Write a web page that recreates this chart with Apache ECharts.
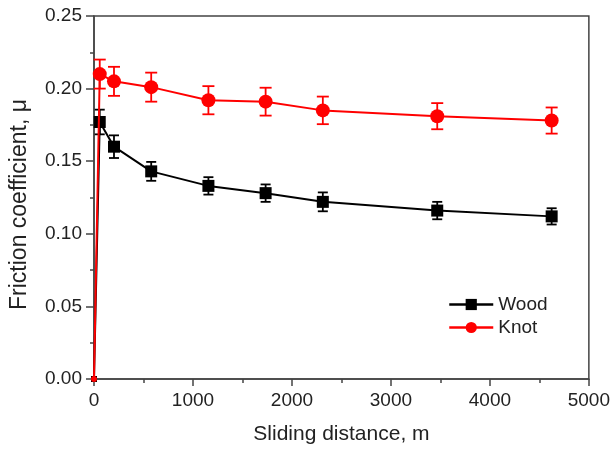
<!DOCTYPE html>
<html>
<head>
<meta charset="utf-8">
<script src="https://cdn.jsdelivr.net/npm/echarts@6/dist/echarts.min.js"></script>
<style>
  html, body { margin: 0; padding: 0; background: #fff; }
  #chart { width: 613px; height: 450px; }
</style>
</head>
<body>
<div id="chart"></div>
<script>
// Sliding distance (m) at each measurement
const distance = [0, 58, 202, 578, 1156, 1734, 2312, 3468, 4624];
// Mean friction coefficient and its error (±) for each specimen
const woodMu = [0, 0.177, 0.160, 0.143, 0.133, 0.128, 0.122, 0.116, 0.112];
const woodErr = [0, 0.0085, 0.0078, 0.0065, 0.006, 0.006, 0.0065, 0.006, 0.0056];
const knotMu = [0, 0.210, 0.205, 0.201, 0.192, 0.191, 0.185, 0.181, 0.178];
const knotErr = [0, 0.010, 0.010, 0.010, 0.0097, 0.0096, 0.0095, 0.009, 0.009];
const yTicks = [0, 0.05, 0.10, 0.15, 0.20, 0.25];

const FONT = 'Liberation Sans, Arial, sans-serif';
const TEXT = '#222';
const AXIS = '#444';

function points(ys, originSize) {
  return distance.map((d, i) => i === 0
    ? { value: [d, ys[i]], symbolSize: originSize }
    : [d, ys[i]]);
}

function errorData(ys, errs) {
  return distance
    .map((d, i) => [d, ys[i] - errs[i], ys[i] + errs[i]])
    .filter((p, i) => errs[i] > 0);
}

function errorSeries(name, ys, errs, color, capHalf, z) {
  return {
    type: 'custom',
    name: name,
    z: z,
    silent: true,
    data: errorData(ys, errs),
    encode: { x: 0, y: [1, 2] },
    renderItem: function (params, api) {
      const lo = api.coord([api.value(0), api.value(1)]);
      const hi = api.coord([api.value(0), api.value(2)]);
      const st = { stroke: color, lineWidth: 1.8 };
      return {
        type: 'group',
        children: [
          { type: 'line', shape: { x1: lo[0], y1: lo[1], x2: hi[0], y2: hi[1] }, style: st },
          { type: 'line', shape: { x1: hi[0] - capHalf, y1: hi[1], x2: hi[0] + capHalf, y2: hi[1] }, style: st },
          { type: 'line', shape: { x1: lo[0] - capHalf, y1: lo[1], x2: lo[0] + capHalf, y2: lo[1] }, style: st }
        ]
      };
    }
  };
}

const chart = echarts.init(document.getElementById('chart'), null, { renderer: 'canvas' });

chart.setOption({
  animation: false,
  backgroundColor: '#fff',
  textStyle: { fontFamily: FONT },
  grid: {
    left: 93, right: 23, top: 16, bottom: 69,
    show: true, borderColor: AXIS, borderWidth: 1.5, backgroundColor: 'transparent'
  },
  legend: {
    left: 443, top: 290,
    orient: 'vertical',
    itemWidth: 44, itemHeight: 14, itemGap: 4,
    data: ['Wood', 'Knot'],
    lineStyle: { width: 2.5 },
    textStyle: { fontFamily: FONT, fontSize: 19, color: TEXT }
  },
  xAxis: {
    type: 'value',
    min: 0, max: 5000, interval: 1000,
    name: 'Sliding distance, m',
    nameLocation: 'middle', nameGap: 45,
    nameTextStyle: { fontFamily: FONT, fontSize: 21, color: TEXT },
    axisLine: { show: true, onZero: false, lineStyle: { color: AXIS, width: 1.5 } },
    axisTick: { show: true, inside: false, length: 7, lineStyle: { color: AXIS, width: 1.5 } },
    minorTick: { show: true, splitNumber: 2, length: 4, lineStyle: { color: AXIS, width: 1.5 } },
    axisLabel: { fontFamily: FONT, fontSize: 19, color: TEXT, margin: 12, formatter: v => String(v) },
    splitLine: { show: false }
  },
  yAxis: {
    type: 'value',
    min: yTicks[0], max: yTicks[yTicks.length - 1], interval: 0.05,
    name: 'Friction coefficient, \u03bc',
    nameLocation: 'middle', nameGap: 63,
    nameTextStyle: { fontFamily: FONT, fontSize: 23, color: TEXT, padding: [0, 14, 0, 0] },
    axisLine: { show: true, onZero: false, lineStyle: { color: AXIS, width: 1.5 } },
    axisTick: { show: true, inside: false, length: 8, lineStyle: { color: AXIS, width: 1.5 } },
    minorTick: { show: true, splitNumber: 2, length: 4, lineStyle: { color: AXIS, width: 1.5 } },
    axisLabel: {
      fontFamily: FONT, fontSize: 19, color: TEXT, margin: 12,
      formatter: v => v.toFixed(2)
    },
    splitLine: { show: false }
  },
  series: [
    errorSeries('Wood error', woodMu, woodErr, '#000', 5, 2),
    {
      name: 'Wood', type: 'line', z: 3,
      data: points(woodMu, 6),
      symbol: 'rect', symbolSize: 12,
      lineStyle: { color: '#000', width: 2 },
      itemStyle: { color: '#000' },
      clip: false
    },
    errorSeries('Knot error', knotMu, knotErr, '#ff0000', 6, 4),
    {
      name: 'Knot', type: 'line', z: 5,
      data: points(knotMu, 6),
      symbol: 'circle', symbolSize: 14,
      lineStyle: { color: '#ff0000', width: 2 },
      itemStyle: { color: '#ff0000' },
      clip: false
    }
  ]
});
</script>
</body>
</html>
